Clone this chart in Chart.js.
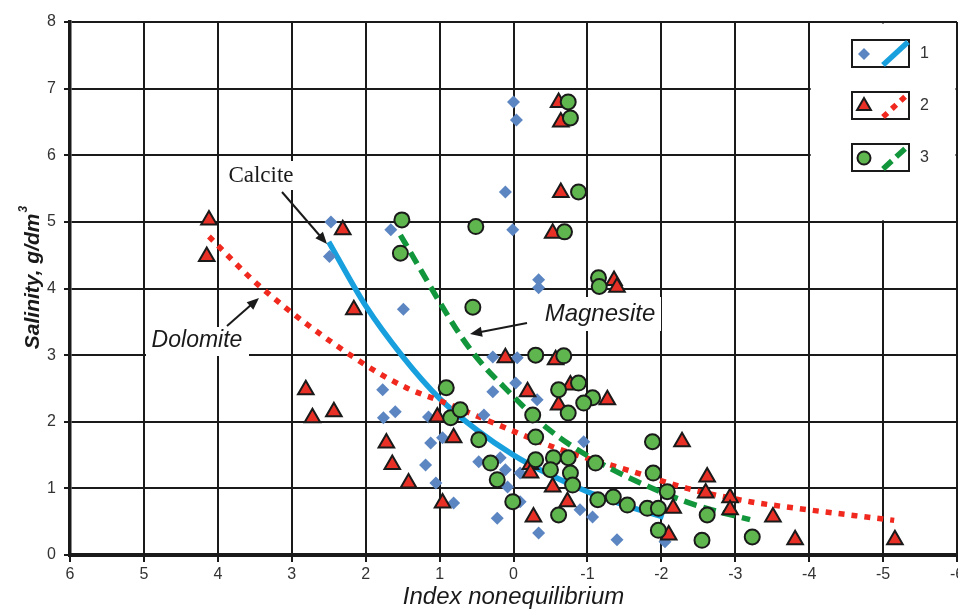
<!DOCTYPE html>
<html lang="en">
<head>
<meta charset="UTF-8">
<title>Salinity vs index nonequilibrium</title>
<style>
  html, body { margin: 0; padding: 0; background: #fff; }
</style>
</head>
<body>
<canvas id="myChart" width="958" height="612"></canvas>

<script src="https://cdn.jsdelivr.net/npm/chart.js@4.4.1/dist/chart.umd.min.js"></script>
<script>
// sample points (1 = calcite, 2 = dolomite, 3 = magnesite)
const calciteX = [0, -0.04, 0.11, 0.01, 1.66, 1.49, -0.34, -0.34, 2.47, 2.49, 0.28, -0.05, -0.03, 0.28, 1.77, 1.76, 1.6, 1.15, 0.96, 1.12, 1.19, 1.05, 0.81, 0.4, 0.47, 0.22, 0.11, -0.09, -0.09, -0.32, -0.34, 0.18, 0.08, -0.95, -0.9, -1.07, -1.4, -2.05];
const calciteY = [6.8, 6.53, 5.45, 4.88, 4.88, 3.69, 4.13, 4.01, 5.0, 4.48, 2.97, 2.96, 2.58, 2.45, 2.48, 2.06, 2.15, 2.07, 1.76, 1.68, 1.35, 1.08, 0.78, 2.1, 1.4, 0.55, 1.28, 0.8, 1.23, 2.33, 0.33, 1.46, 1.02, 1.7, 0.68, 0.57, 0.23, 0.2];

const dolomiteX = [4.12, 4.15, 2.31, 2.16, -0.61, -0.64, -0.64, -0.53, -1.36, -1.4, 0.11, -0.57, 2.81, 2.72, 2.43, 1.03, 0.81, 1.72, 1.64, 1.42, 0.96, -0.19, -0.27, -0.23, -0.23, -0.77, -0.61, -1.27, -2.28, -0.53, -0.73, -2.62, -2.6, -2.93, -2.93, -2.16, -2.1, -3.51, -3.81, -5.16];
const dolomiteY = [5.03, 4.48, 4.88, 3.68, 6.79, 6.5, 5.44, 4.83, 4.12, 4.02, 2.96, 2.93, 2.48, 2.06, 2.15, 2.07, 1.76, 1.68, 1.36, 1.08, 0.78, 2.45, 0.57, 1.36, 1.23, 2.55, 2.25, 2.33, 1.7, 1.02, 0.8, 1.17, 0.93, 0.86, 0.68, 0.7, 0.3, 0.57, 0.23, 0.23];

const magnesiteX = [-0.74, -0.77, -0.88, -0.69, 0.51, 1.51, 1.53, -1.15, -1.16, 0.55, -0.3, -0.68, 0.91, 0.85, 0.72, 0.47, 0.31, 0.22, 0.01, -0.26, -0.3, -0.3, -0.61, -0.88, -1.07, -0.95, -0.74, -0.54, -0.74, -0.5, -0.77, -0.8, -0.61, -1.11, -1.14, -1.35, -1.54, -1.81, -1.96, -2.08, -1.88, -1.89, -1.96, -2.55, -2.62, -3.23];
const magnesiteY = [6.8, 6.56, 5.45, 4.85, 4.93, 5.03, 4.53, 4.16, 4.03, 3.72, 3.0, 2.99, 2.51, 2.06, 2.18, 1.73, 1.38, 1.13, 0.8, 2.1, 1.77, 1.43, 2.48, 2.58, 2.36, 2.28, 2.13, 1.46, 1.46, 1.28, 1.23, 1.05, 0.6, 1.38, 0.83, 0.87, 0.75, 0.7, 0.7, 0.95, 1.7, 1.23, 0.37, 0.22, 0.6, 0.27];

// fitted curves
const calciteFitX = [2.5, 2.0, 1.5, 1.0, 0.5, 0.0, -0.5, -1.0, -1.5, -2.03];
const calciteFitY = [4.7, 3.74, 2.98, 2.35, 1.88, 1.5, 1.2, 0.95, 0.75, 0.57];

const dolomiteFitX = [4.12, 3.45, 2.07, 1.43, 0.96, 0.2, -0.59, -1.62, -2.35, -3.2, -3.84, -5.15];
const dolomiteFitY = [4.78, 4.05, 2.9, 2.5, 2.3, 1.95, 1.6, 1.25, 1.0, 0.8, 0.7, 0.52];

const magnesiteFitX = [1.53, 0.72, 0.45, 0.18, -0.46, -1.11, -2.03, -2.55, -3.2];
const magnesiteFitY = [4.8, 3.3, 2.9, 2.58, 1.9, 1.42, 0.93, 0.72, 0.53];

const xRange = [-6, 6];
const yRange = [0, 8];

const BLUE_PT = 'rgb(92,134,194)';
const RED = 'rgb(232,48,38)';
const GREEN = 'rgb(96,182,78)';
const BLUE_LINE = 'rgb(24,160,222)';
const RED_LINE = 'rgb(240,40,30)';
const GREEN_LINE = 'rgb(18,150,60)';
const INK = '#1a1a1a';
const SANS = '"Liberation Sans", Arial, sans-serif';

const pts = (xs, ys) => xs.map((v, i) => ({ x: v, y: ys[i] }));

function arrow(ctx, x1, y1, x2, y2) {
  const a = Math.atan2(y2 - y1, x2 - x1), len = 12, hw = 5;
  ctx.beginPath();
  ctx.moveTo(x1, y1);
  ctx.lineTo(x2 - Math.cos(a) * len * 0.8, y2 - Math.sin(a) * len * 0.8);
  ctx.stroke();
  ctx.beginPath();
  ctx.moveTo(x2, y2);
  ctx.lineTo(x2 - Math.cos(a) * len - Math.sin(a) * hw, y2 - Math.sin(a) * len + Math.cos(a) * hw);
  ctx.lineTo(x2 - Math.cos(a) * len + Math.sin(a) * hw, y2 - Math.sin(a) * len - Math.cos(a) * hw);
  ctx.closePath();
  ctx.fill();
}

function label(ctx, text, font, cx, cy, box) {
  ctx.fillStyle = '#fff';
  ctx.fillRect(box[0], box[1], box[2] - box[0], box[3] - box[1]);
  ctx.fillStyle = INK;
  ctx.font = font;
  ctx.textAlign = 'center';
  ctx.textBaseline = 'middle';
  ctx.fillText(text, cx, cy);
}

const extras = {
  id: 'extras',
  beforeDatasetsDraw(chart) {
    const { ctx, scales: { x, y } } = chart;
    const l = x.getPixelForValue(-4) + 1.5, r = x.getPixelForValue(-6) - 1.5;
    const t = y.getPixelForValue(8) + 1.5, b = y.getPixelForValue(5) - 1.5;
    ctx.save();
    ctx.fillStyle = '#fff';
    ctx.fillRect(l, t, r - l, b - t);

    // key boxes
    const rows = [
      { top: 40, style: 'rectRot', r: 6, fill: BLUE_PT, bw: 0, line: BLUE_LINE, dash: [], name: '1' },
      { top: 92, style: 'triangle', r: 8, fill: RED, bw: 2, line: RED_LINE, dash: [6, 6], name: '2' },
      { top: 144, style: 'circle', r: 6.5, fill: GREEN, bw: 2, line: GREEN_LINE, dash: [12, 6], name: '3' }
    ];
    rows.forEach(k => {
      ctx.lineWidth = 2;
      ctx.strokeStyle = INK;
      ctx.setLineDash([]);
      ctx.strokeRect(852, k.top, 57, 27);
      ctx.fillStyle = k.fill;
      Chart.helpers.drawPoint(ctx, { pointStyle: k.style, radius: k.r, rotation: 0, borderWidth: k.bw }, 864, k.top + 14);
      ctx.strokeStyle = k.line;
      ctx.lineWidth = 5.5;
      ctx.setLineDash(k.dash);
      ctx.beginPath();
      ctx.moveTo(883, k.top + 25);
      ctx.lineTo(908, k.top + 2);
      ctx.stroke();
      ctx.setLineDash([]);
      ctx.fillStyle = '#333';
      ctx.font = '16px ' + SANS;
      ctx.textAlign = 'left';
      ctx.textBaseline = 'middle';
      ctx.fillText(k.name, 920, k.top + 14);
    });
    ctx.restore();
  },
  afterDatasetsDraw(chart) {
    const { ctx } = chart;
    ctx.save();
    label(ctx, 'Calcite', '23px "Liberation Serif", "Times New Roman", serif', 261, 176, [224, 161, 298, 190]);
    label(ctx, 'Dolomite', 'italic 23px ' + SANS, 197, 341, [146, 327, 249, 356]);
    label(ctx, 'Magnesite', 'italic 24px ' + SANS, 600, 314, [541, 297, 661, 331]);
    ctx.strokeStyle = INK;
    ctx.fillStyle = INK;
    ctx.lineWidth = 2;
    arrow(ctx, 282, 192, 327, 244);
    arrow(ctx, 227, 326, 259, 298);
    arrow(ctx, 527, 323, 470, 334);
    ctx.restore();
  },
  afterDraw(chart) {
    const { ctx } = chart;
    ctx.save();
    ctx.translate(32, 278);
    ctx.rotate(-Math.PI / 2);
    ctx.fillStyle = INK;
    ctx.textBaseline = 'alphabetic';
    ctx.textAlign = 'left';
    const main = 'Salinity, g/dm';
    ctx.font = 'italic bold 21px ' + SANS;
    const w = ctx.measureText(main).width;
    ctx.font = 'italic bold 12px ' + SANS;
    const s = ctx.measureText('3').width;
    const x0 = -(w + s) / 2;
    ctx.font = 'italic bold 21px ' + SANS;
    ctx.fillText(main, x0, 7);
    ctx.font = 'italic bold 12px ' + SANS;
    ctx.fillText('3', x0 + w + 1, -5);
    ctx.restore();
  }
};

const ctx = document.getElementById('myChart');
const myChart = new Chart(ctx, {
  type: 'scatter',
  data: {
    datasets: [
      { type: 'line', label: 'Calcite', data: pts(calciteFitX, calciteFitY), borderColor: BLUE_LINE, borderWidth: 5.5,
        pointRadius: 0, cubicInterpolationMode: 'monotone', fill: false, order: 10 },
      { type: 'line', label: 'Dolomite', data: pts(dolomiteFitX, dolomiteFitY), borderColor: RED_LINE, borderWidth: 5.5,
        borderDash: [6, 7], pointRadius: 0, cubicInterpolationMode: 'monotone', fill: false, order: 9 },
      { type: 'line', label: 'Magnesite', data: pts(magnesiteFitX, magnesiteFitY), borderColor: GREEN_LINE, borderWidth: 5.5,
        borderDash: [13, 7], pointRadius: 0, cubicInterpolationMode: 'monotone', fill: false, order: 8 },
      { label: '1', data: pts(calciteX, calciteY), pointStyle: 'rectRot', pointRadius: 6.5,
        backgroundColor: BLUE_PT, borderWidth: 0, order: 3 },
      { label: '2', data: pts(dolomiteX, dolomiteY), pointStyle: 'triangle', pointRadius: 9,
        backgroundColor: RED, borderColor: INK, borderWidth: 2, order: 2 },
      { label: '3', data: pts(magnesiteX, magnesiteY), pointStyle: 'circle', pointRadius: 7.5,
        backgroundColor: GREEN, borderColor: INK, borderWidth: 2, order: 1 }
    ]
  },
  options: {
    responsive: false,
    animation: false,
    events: [],
    layout: { autoPadding: false, padding: { top: 22, right: 1, left: 0, bottom: 0 } },
    plugins: { legend: { display: false }, tooltip: { enabled: false } },
    scales: {
      x: {
        type: 'linear', min: xRange[0], max: xRange[1], reverse: true,
        ticks: { stepSize: 1, color: '#333', padding: 3, maxRotation: 0, font: { family: SANS, size: 16 } },
        grid: { color: INK, lineWidth: 2, tickLength: 7 },
        border: { color: INK, width: 4 },
        title: { display: true, text: 'Index nonequilibrium', color: INK, padding: { top: 0, bottom: 0 },
                 font: { family: SANS, size: 24, style: 'italic' } },
        afterFit(scale) { scale.height = 57; scale.paddingLeft = 0; scale.paddingRight = 0; }
      },
      y: {
        type: 'linear', min: yRange[0], max: yRange[1],
        ticks: { stepSize: 1, color: '#333', padding: 8, font: { family: SANS, size: 16 } },
        grid: { color: INK, lineWidth: 2, tickLength: 6 },
        border: { color: INK, width: 3.5 },
        afterFit(scale) { scale.width = 70; }
      }
    }
  },
  plugins: [extras]
});
</script>
</body>
</html>
